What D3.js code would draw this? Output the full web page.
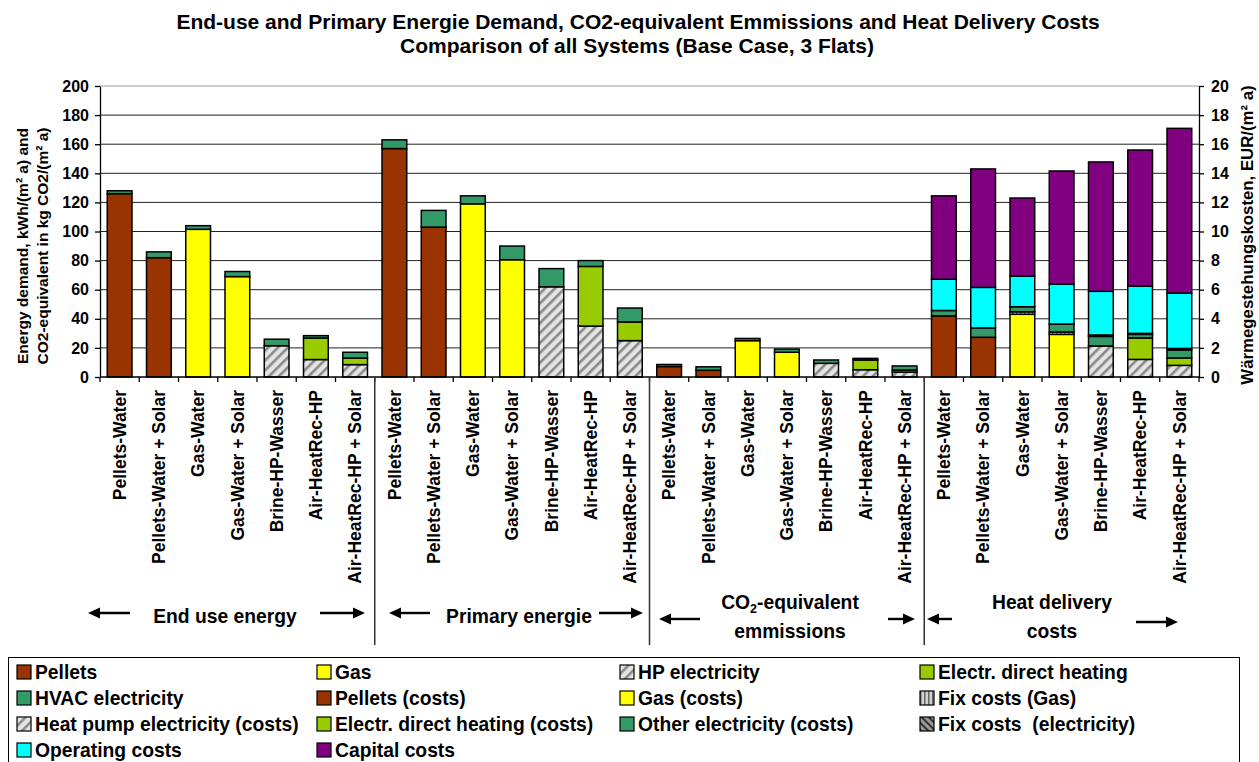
<!DOCTYPE html>
<html>
<head>
<meta charset="UTF-8">
<style>
body { margin: 0; background: #fff; }
svg { display: block; font-family: "Liberation Sans", Arial, sans-serif; font-weight: bold; }
</style>
</head>
<body>
<svg></svg>
<script src="https://d3js.org/d3.v7.min.js"></script>
<script>

let width = 1259, height = 762;

// the seven systems, repeated in each of the four blocks
let systems = ["Pellets-Water", "Pellets-Water + Solar", "Gas-Water", "Gas-Water + Solar",
               "Brine-HP-Wasser", "Air-HeatRec-HP", "Air-HeatRec-HP + Solar"];

// energy blocks: end use | primary | CO2-equivalent (left axis)
let pellets = [126, 82, 0, 0, 0, 0, 0,    157, 103, 0, 0, 0, 0, 0,    7.2, 4.6, 0, 0, 0, 0, 0];
let gas     = [0, 0, 101.5, 69, 0, 0, 0,  0, 0, 119, 80.6, 0, 0, 0,   0, 0, 25, 17, 0, 0, 0];
let hpElec  = [0, 0, 0, 0, 21.5, 12, 8.5, 0, 0, 0, 0, 62, 35, 25,     0, 0, 0, 0, 9.4, 5, 3.4];
let direct  = [0, 0, 0, 0, 0, 14.8, 4.5,  0, 0, 0, 0, 0, 41, 12.8,    0, 0, 0, 0, 0, 6.7, 1.4];
let hvac    = [2, 4, 2.5, 3.5, 4.5, 1.6, 4, 6, 11.5, 5.5, 9.4, 12.5, 4, 9.6, 1.4, 2.4, 1.5, 2.2, 2.3, 1.1, 2.8];

// heat delivery costs, EUR/(m² a) (right axis)
let pelletsCost = [4.2, 2.73, 0, 0, 0, 0, 0];
let gasCost     = [0, 0, 4.31, 2.93, 0, 0, 0];
let fixGas      = [0, 0, 0.17, 0.16, 0, 0, 0];
let hpCost      = [0, 0, 0, 0, 2.13, 1.21, 0.8];
let directCost  = [0, 0, 0, 0, 0, 1.47, 0.51];
let otherElec   = [0.37, 0.64, 0.35, 0.55, 0.66, 0.25, 0.55];
let fixElec     = [0, 0, 0, 0, 0.1, 0.07, 0.1];
let operating   = [2.15, 2.79, 2.11, 2.75, 3.0, 3.25, 3.81];
let capital     = [5.73, 8.14, 5.36, 7.77, 8.89, 9.35, 11.32];

let series = [
  {key: "pellets",     label: "Pellets",                        fill: "#993300",         energy: pellets},
  {key: "gas",         label: "Gas",                            fill: "#FFFF00",         energy: gas},
  {key: "hp",          label: "HP electricity",                 fill: "url(#hatch)",     energy: hpElec},
  {key: "direct",      label: "Electr. direct heating",         fill: "#99CC00",         energy: direct},
  {key: "hvac",        label: "HVAC electricity",               fill: "#339966",         energy: hvac},
  {key: "pelletsCost", label: "Pellets (costs)",                fill: "#993300",         cost: pelletsCost},
  {key: "gasCost",     label: "Gas (costs)",                    fill: "#FFFF00",         cost: gasCost},
  {key: "fixGas",      label: "Fix costs (Gas)",                fill: "url(#vstripe)",   cost: fixGas},
  {key: "hpCost",      label: "Heat pump electricity (costs)",  fill: "url(#hatch)",     cost: hpCost},
  {key: "directCost",  label: "Electr. direct heating (costs)", fill: "#99CC00",         cost: directCost},
  {key: "otherElec",   label: "Other electricity (costs)",      fill: "#339966",         cost: otherElec},
  {key: "fixElec",     label: "Fix costs  (electricity)",       fill: "url(#dhatch)",    cost: fixElec},
  {key: "operating",   label: "Operating costs",                fill: "#00FFFF",         cost: operating},
  {key: "capital",     label: "Capital costs",                  fill: "#800080",         cost: capital}
];

// one row per bar, 4 blocks x 7 systems
let rows = d3.range(28).map(i => {
  let block = Math.floor(i / 7), j = i % 7;
  let r = {i: i, block: block};
  series.forEach(s => {
    if (block < 3) r[s.key] = s.energy ? s.energy[block * 7 + j] : 0;
    else r[s.key] = s.cost ? s.cost[j] : 0;
  });
  return r;
});

let svg = d3.select("svg").attr("width", width).attr("height", height);

// patterns
let defs = svg.append("defs");
let p1 = defs.append("pattern").attr("id", "hatch").attr("patternUnits", "userSpaceOnUse")
  .attr("width", 7).attr("height", 7).attr("patternTransform", "rotate(45)");
p1.append("rect").attr("width", 7).attr("height", 7).attr("fill", "#e4e4e4");
p1.append("rect").attr("width", 2.6).attr("height", 7).attr("fill", "#8a8a8a");

let p2 = defs.append("pattern").attr("id", "vstripe").attr("patternUnits", "userSpaceOnUse")
  .attr("width", 4).attr("height", 4);
p2.append("rect").attr("width", 4).attr("height", 4).attr("fill", "#d0d0d0");
p2.append("rect").attr("width", 1.5).attr("height", 4).attr("fill", "#666");

let p3 = defs.append("pattern").attr("id", "dhatch").attr("patternUnits", "userSpaceOnUse")
  .attr("width", 5).attr("height", 5).attr("patternTransform", "rotate(-45)");
p3.append("rect").attr("width", 5).attr("height", 5).attr("fill", "#9a9a9a");
p3.append("rect").attr("width", 2).attr("height", 5).attr("fill", "#333");

// scales
let plotL = 100, plotR = 1199, plotT = 86, plotB = 377;
let x = d3.scaleBand().domain(d3.range(28)).range([plotL, plotR]).paddingInner(0.37).paddingOuter(0.185);
let yL = d3.scaleLinear().domain([0, 200]).range([plotB, plotT]);
let yR = d3.scaleLinear().domain([0, 20]).range([plotB, plotT]);

// gridlines
svg.append("g").selectAll("line").data(yL.ticks(10).filter(d => d > 0)).enter().append("line")
  .attr("x1", plotL).attr("x2", plotR)
  .attr("y1", d => yL(d)).attr("y2", d => yL(d))
  .attr("stroke", d => d == 200 ? "#999" : "#222").attr("stroke-width", 1);

// bars
let stacked = d3.stack().keys(series.map(s => s.key))(rows);
let fills = {};
series.forEach(s => fills[s.key] = s.fill);

svg.append("g").selectAll("g").data(stacked).enter().append("g")
  .attr("fill", d => fills[d.key])
  .selectAll("rect").data(d => d.filter(v => v[1] - v[0] > 0)).enter().append("rect")
  .attr("x", d => x(d.data.i))
  .attr("width", x.bandwidth())
  .attr("y", d => (d.data.block == 3 ? yR : yL)(d[1]))
  .attr("height", d => { let s = d.data.block == 3 ? yR : yL; return s(d[0]) - s(d[1]); })
  .attr("stroke", "#000").attr("stroke-width", 1.5);

// axes
let axL = svg.append("g").attr("transform", "translate(" + plotL + ",0)")
  .call(d3.axisLeft(yL).ticks(10).tickSize(5).tickSizeOuter(0).tickPadding(6));
let axR = svg.append("g").attr("transform", "translate(" + plotR + ",0)")
  .call(d3.axisRight(yR).ticks(10).tickSize(5).tickSizeOuter(0).tickPadding(7));
[axL, axR].forEach(a => {
  a.selectAll("text").attr("font-size", "16px").attr("font-family", null).attr("fill", "#000");
  a.selectAll("line, path").attr("stroke", "#000").attr("stroke-width", 1.3);
});

let axB = svg.append("g").attr("transform", "translate(0," + plotB + ")")
  .call(d3.axisBottom(x).tickSize(0).tickFormat(i => systems[i % 7]));
axB.select(".domain").remove();
axB.selectAll("text")
  .attr("font-size", "17.5px").attr("font-family", null).attr("fill", "#000")
  .attr("transform", "rotate(-90)").attr("text-anchor", "end")
  .attr("x", -13).attr("y", 0).attr("dy", "0.36em");

svg.append("line").attr("x1", plotL).attr("x2", plotR).attr("y1", plotB).attr("y2", plotB)
  .attr("stroke", "#000").attr("stroke-width", 1.3);
svg.append("g").selectAll("line").data(d3.range(29)).enter().append("line")
  .attr("x1", k => plotL + k * x.step()).attr("x2", k => plotL + k * x.step())
  .attr("y1", plotB).attr("y2", plotB + 5)
  .attr("stroke", "#000").attr("stroke-width", 1.3);

// block separators
svg.append("g").selectAll("line").data([7, 14, 21]).enter().append("line")
  .attr("x1", k => plotL + k * x.step()).attr("x2", k => plotL + k * x.step())
  .attr("y1", plotB).attr("y2", 645)
  .attr("stroke", "#333").attr("stroke-width", 1.5);

// axis titles
let yt = svg.append("text").attr("font-size", "15.5px").attr("text-anchor", "middle")
  .attr("transform", "translate(28,246) rotate(-90)");
yt.append("tspan").attr("x", 0).attr("y", 0).text("Energy demand, kWh/(m² a) and");
yt.append("tspan").attr("x", 0).attr("y", 20).text("CO2-equivalent in kg CO2/(m² a)");

svg.append("text").attr("font-size", "16.8px").attr("text-anchor", "middle")
  .attr("transform", "translate(1253,235) rotate(-90)")
  .text("Wärmegestehungskosten, EUR/(m² a)");

// title
let tt = svg.append("text").attr("font-size", "21px").attr("text-anchor", "middle");
tt.append("tspan").attr("x", 638).attr("y", 29)
  .text("End-use and Primary Energie Demand, CO2-equivalent Emmissions and Heat Delivery Costs");
tt.append("tspan").attr("x", 637).attr("y", 53).text("Comparison of all Systems (Base Case, 3 Flats)");

// block captions with arrows
function arrow(x1, x2, y) {
  let dir = x2 > x1 ? 1 : -1;
  svg.append("line").attr("x1", x1).attr("x2", x2 - dir * 9).attr("y1", y).attr("y2", y)
    .attr("stroke", "#000").attr("stroke-width", 2.4);
  svg.append("path")
    .attr("d", "M" + x2 + "," + y + "L" + (x2 - dir * 12) + "," + (y - 5.5) + "L" + (x2 - dir * 12) + "," + (y + 5.5) + "Z")
    .attr("fill", "#000");
}
arrow(130, 88, 613);  arrow(320, 365, 613);
arrow(430, 389, 613); arrow(599, 643, 613);
arrow(700, 659, 619); arrow(888, 915, 619);
arrow(952, 927, 619); arrow(1136, 1178, 622);

let cap = svg.append("g").attr("font-size", "19.3px").attr("text-anchor", "middle");
cap.append("text").attr("x", 225).attr("y", 623).text("End use energy");
cap.append("text").attr("x", 519).attr("y", 623).text("Primary energie");
let co = cap.append("text").attr("x", 790).attr("y", 609);
co.append("tspan").text("CO");
co.append("tspan").attr("font-size", "12.5px").attr("dy", 4).text("2");
co.append("tspan").attr("dy", -4).text("-equivalent");
cap.append("text").attr("x", 790).attr("y", 638).text("emmissions");
cap.append("text").attr("x", 1052).attr("y", 609).text("Heat delivery");
cap.append("text").attr("x", 1052).attr("y", 638).text("costs");

// legend
svg.append("rect").attr("x", 8.5).attr("y", 657.5).attr("width", 1231).attr("height", 120)
  .attr("fill", "#fff").attr("stroke", "#000").attr("stroke-width", 1);
let colX = [17, 317, 620, 920];
let lg = svg.append("g").selectAll("g").data(series).enter().append("g")
  .attr("transform", (d, k) => "translate(" + colX[k % 4] + "," + (672 + Math.floor(k / 4) * 26) + ")");
lg.append("rect").attr("x", 0).attr("y", -7).attr("width", 14).attr("height", 14)
  .attr("fill", d => d.fill).attr("stroke", "#000").attr("stroke-width", 1.2);
lg.append("text").attr("x", 18).attr("y", 7).attr("font-size", "19.3px").style("white-space", "pre")
  .text(d => d.label);

</script>
</body>
</html>
